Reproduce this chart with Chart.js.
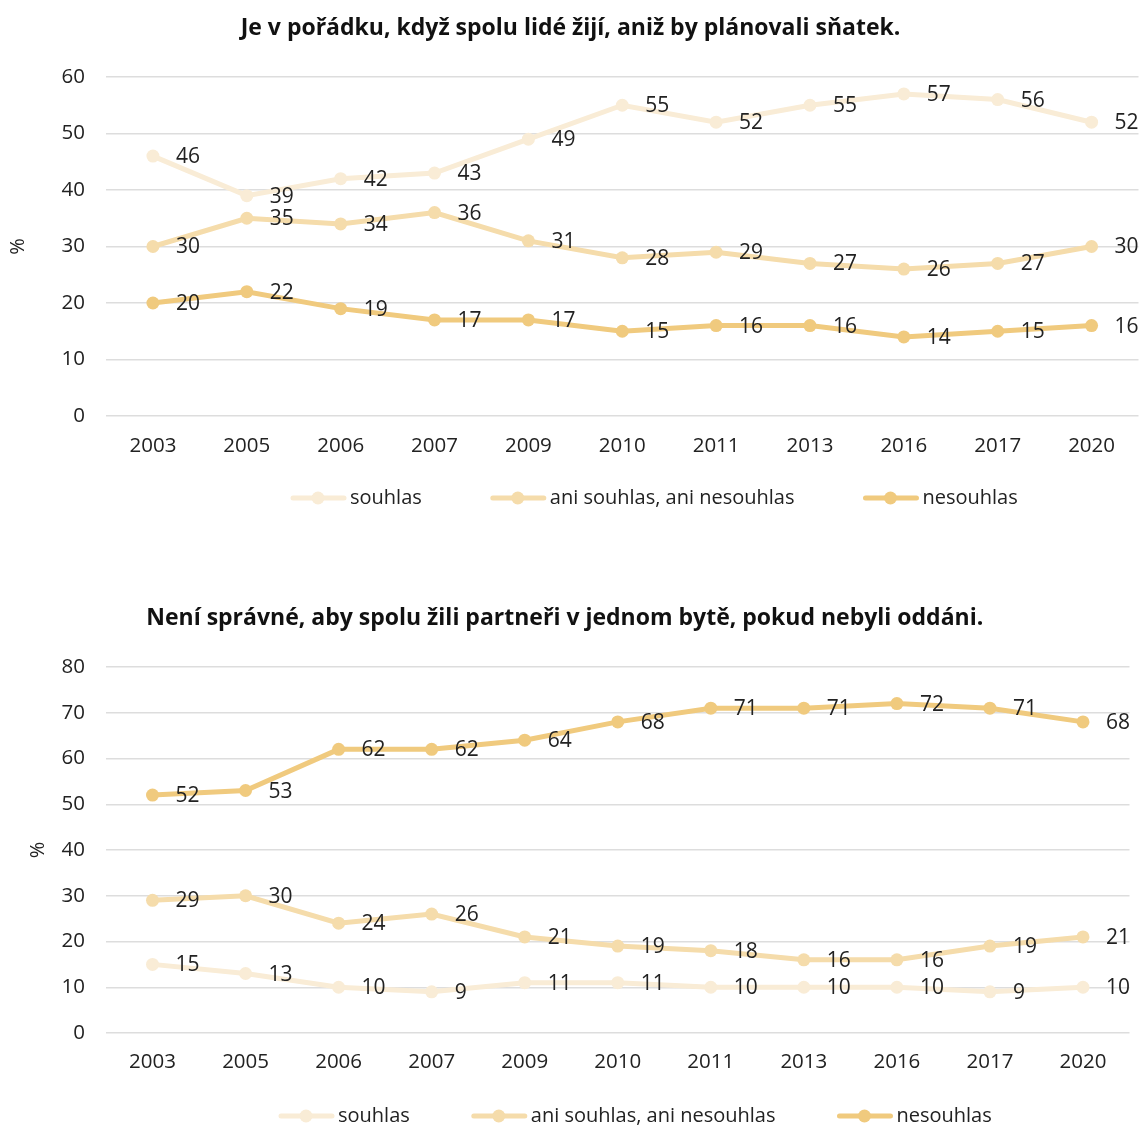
<!DOCTYPE html>
<html><head><meta charset="utf-8">
<script src="https://cdn.jsdelivr.net/npm/chart.js@4"></script>
<style>
html,body{margin:0;padding:0;background:#fff;}
#w1{position:absolute;left:0;top:0;width:1145px;height:560px;}
#w2{position:absolute;left:0;top:560px;width:1145px;height:566px;}
canvas{display:block;}
</style></head><body>
<div id="w1"><canvas id="c1" width="1145" height="560"></canvas></div>
<div id="w2"><canvas id="c2" width="1145" height="566"></canvas></div>
<script>
// ---- data ----
const years = ['2003','2005','2006','2007','2009','2010','2011','2013','2016','2017','2020'];
const seriesNames = ['souhlas', 'ani souhlas, ani nesouhlas', 'nesouhlas'];

const title1 = 'Je v pořádku, když spolu lidé žijí, aniž by plánovali sňatek.';
const souhlas1   = [46, 39, 42, 43, 49, 55, 52, 55, 57, 56, 52];
const ani1       = [30, 35, 34, 36, 31, 28, 29, 27, 26, 27, 30];
const nesouhlas1 = [20, 22, 19, 17, 17, 15, 16, 16, 14, 15, 16];
const yMax1 = 60;

const title2 = 'Není správné, aby spolu žili partneři v jednom bytě, pokud nebyli oddáni.';
const souhlas2   = [15, 13, 10, 9, 11, 11, 10, 10, 10, 9, 10];
const ani2       = [29, 30, 24, 26, 21, 19, 18, 16, 16, 19, 21];
const nesouhlas2 = [52, 53, 62, 62, 64, 68, 71, 71, 72, 71, 68];
const yMax2 = 80;

const yStep = 10;
const axisTitle = '%';

// ---- style ----
const FONT = '"Open Sans", sans-serif';
const colors = ['#F9ECD6', '#F5DCAB', '#F0CA7E'];
const TEXT = '#222222';
Chart.defaults.font.family = FONT;

const dataLabelPlugin = {
  id: 'valueLabels',
  afterDatasetsDraw(chart) {
    const ctx = chart.ctx;
    ctx.save();
    ctx.font = '21px ' + FONT;
    ctx.fillStyle = TEXT;
    ctx.textAlign = 'left';
    ctx.textBaseline = 'middle';
    chart.data.datasets.forEach((ds, i) => {
      const meta = chart.getDatasetMeta(i);
      meta.data.forEach((pt, j) => {
        ctx.fillText(String(ds.data[j]), pt.x + 23, pt.y + 1);
      });
    });
    ctx.restore();
  }
};

const legendPlugin = {
  id: 'lineLegend',
  afterDraw(chart, args, opts) {
    const ctx = chart.ctx;
    let x = opts.startX;
    const y = opts.y;
    ctx.save();
    ctx.font = '20px ' + FONT;
    ctx.textBaseline = 'middle';
    ctx.textAlign = 'left';
    chart.data.datasets.forEach(ds => {
      ctx.strokeStyle = ds.borderColor;
      ctx.lineWidth = 5;
      ctx.lineCap = 'round';
      ctx.beginPath(); ctx.moveTo(x + 3, y); ctx.lineTo(x + 54, y); ctx.stroke();
      ctx.fillStyle = ds.borderColor;
      ctx.beginPath(); ctx.arc(x + 28, y, 6.5, 0, Math.PI * 2); ctx.fill();
      ctx.fillStyle = TEXT;
      ctx.fillText(ds.label, x + 60, y);
      x += 60 + ctx.measureText(ds.label).width + opts.gap;
    });
    ctx.restore();
  }
};

function makeDatasets(arrs) {
  return arrs.map((d, i) => ({
    label: seriesNames[i],
    data: d,
    borderColor: colors[i],
    backgroundColor: colors[i],
    pointBackgroundColor: colors[i],
    pointBorderWidth: 0,
    pointRadius: 6.5,
    borderWidth: 5,
    tension: 0,
    fill: false
  }));
}

function makeChart(id, title, arrs, yMax, cfg) {
  return new Chart(document.getElementById(id), {
    type: 'line',
    data: { labels: years, datasets: makeDatasets(arrs) },
    options: {
      responsive: false,
      animation: false,
      layout: { padding: { left: 0, right: cfg.padRight, top: 0, bottom: cfg.padBottom } },
      plugins: {
        legend: { display: false },
        tooltip: { enabled: false },
        title: {
          display: true, text: title, color: '#111',
          font: { size: 23, weight: 'bold', family: FONT },
          padding: { top: cfg.titleTop, bottom: cfg.titleBottom }
        },
        lineLegend: { startX: cfg.legendX, y: cfg.legendY, gap: cfg.legendGap }
      },
      scales: {
        x: {
          type: 'category', offset: true,
          grid: { display: false, drawTicks: false },
          border: { display: false },
          ticks: { color: TEXT, font: { size: 20.5 }, padding: cfg.xPad, maxRotation: 0, autoSkip: false },
          afterFit(s) { s.height = 50; }
        },
        y: {
          min: 0, max: yMax,
          ticks: { stepSize: yStep, color: TEXT, font: { size: 20.5 }, padding: 21 },
          grid: { color: '#DDDDDD', lineWidth: 1.5, drawTicks: false },
          border: { display: false },
          title: { display: true, text: axisTitle, color: TEXT, font: { size: 20 }, padding: { top: cfg.yTitlePad, bottom: 0 } },
          afterFit(s) { s.width = 106; }
        }
      }
    },
    plugins: [dataLabelPlugin, legendPlugin]
  });
}

makeChart('c1', title1, [souhlas1, ani1, nesouhlas1], yMax1, {
  padRight: 4, padBottom: 94, titleTop: 14.2, titleBottom: 35.2, xPad: 18,
  yTitlePad: 6, legendX: 290, legendY: 498, legendGap: 68
});
makeChart('c2', title2, [souhlas2, ani2, nesouhlas2], yMax2, {
  padRight: 15.5, padBottom: 43, titleTop: 44.2, titleBottom: 35.2, xPad: 17,
  yTitlePad: 26, legendX: 278, legendY: 556, legendGap: 61
});
</script>
</body></html>
